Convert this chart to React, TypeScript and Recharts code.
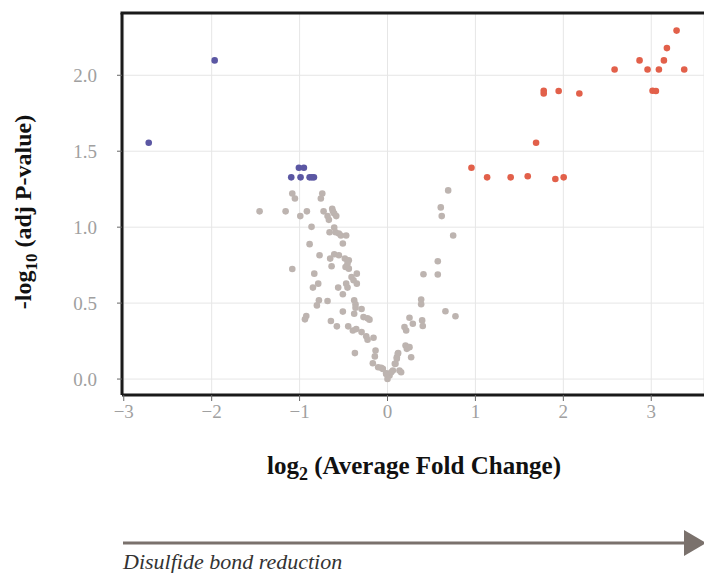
import {
  CartesianGrid,
  Scatter,
  ScatterChart,
  XAxis,
  YAxis,
} from "recharts";

// Volcano plot: log2 fold change vs -log10 adjusted p-value.
// Grey = not significant, blue = down, red = up.

const xTicks = [-3, -2, -1, 0, 1, 2, 3];
const yTicks = [0, 0.5, 1, 1.5, 2];

const downPoints: [number, number][] = [
  [-1.966, 2.098], [-2.716, 1.556], [-1.008, 1.391], [-0.951, 1.391],
  [-1.095, 1.328], [-0.989, 1.328], [-0.886, 1.328], [-0.86, 1.328],
  [-0.837, 1.328],
];

const upPoints: [number, number][] = [
  [3.288, 2.294], [3.178, 2.179], [2.867, 2.098], [3.144, 2.098],
  [2.583, 2.038], [2.958, 2.038], [3.087, 2.038], [3.375, 2.038],
  [1.777, 1.898], [1.777, 1.88], [1.947, 1.896], [2.182, 1.88],
  [3.015, 1.898], [3.053, 1.896], [1.69, 1.556], [0.955, 1.391],
  [1.133, 1.328], [1.401, 1.328], [1.595, 1.335], [1.909, 1.317],
  [2.004, 1.328],
];

const nsPoints: [number, number][] = [
  [-1.083, 1.222], [-1.053, 1.189], [-0.742, 1.222], [-0.758, 1.189],
  [-1.455, 1.104], [-1.159, 1.104], [-0.917, 1.104], [-0.992, 1.073],
  [-0.727, 1.104], [-0.682, 1.073], [-0.667, 1.048], [-0.629, 1.121],
  [-0.621, 1.104], [-0.606, 1.09], [-0.583, 1.073], [-0.864, 1.002],
  [-0.659, 0.967], [-0.606, 0.998], [-0.591, 0.967], [-0.553, 0.958],
  [-0.53, 0.945], [-0.47, 0.945], [-0.886, 0.888], [-0.508, 0.892],
  [-0.773, 0.815], [-0.652, 0.793], [-0.606, 0.822], [-0.553, 0.815],
  [-0.485, 0.793], [-0.44, 0.782], [-0.455, 0.76], [-0.477, 0.738],
  [-0.44, 0.727], [-0.636, 0.743], [-1.083, 0.725], [-0.833, 0.694],
  [-0.349, 0.694], [-0.409, 0.672], [-0.386, 0.65], [-0.349, 0.628],
  [-0.47, 0.628], [-0.561, 0.602], [-0.455, 0.602], [-0.848, 0.602],
  [-0.788, 0.628], [-0.508, 0.558], [-0.379, 0.518], [-0.364, 0.492],
  [-0.364, 0.47], [-0.295, 0.461], [-0.379, 0.43], [-0.682, 0.514],
  [-0.78, 0.518], [-0.803, 0.485], [-0.508, 0.444], [-0.924, 0.415],
  [-0.939, 0.393], [-0.273, 0.408], [-0.227, 0.4], [-0.205, 0.391],
  [-0.644, 0.382], [-0.576, 0.347], [-0.447, 0.347], [-0.394, 0.32],
  [-0.356, 0.329], [-0.295, 0.309], [-0.242, 0.281], [-0.227, 0.259],
  [-0.159, 0.272], [-0.371, 0.171], [-0.136, 0.188], [-0.144, 0.149],
  [-0.167, 0.104], [-0.106, 0.078], [-0.053, 0.067], [-0.015, 0.034],
  [0.0, 0.001], [0.023, 0.023], [0.061, 0.056], [0.083, 0.1],
  [0.106, 0.144], [0.121, 0.171], [-0.072, 0.074], [-0.015, 0.038],
  [0.042, 0.045], [0.091, 0.1], [0.106, 0.133], [0.117, 0.166],
  [0.136, 0.056], [0.155, 0.045], [0.205, 0.221], [0.22, 0.199],
  [0.25, 0.21], [0.269, 0.144], [0.193, 0.342], [0.212, 0.32],
  [0.25, 0.404], [0.288, 0.364], [0.383, 0.523], [0.383, 0.492],
  [0.394, 0.386], [0.401, 0.349], [0.409, 0.69], [0.572, 0.776],
  [0.572, 0.688], [0.606, 1.13], [0.617, 1.073], [0.69, 1.242],
  [0.747, 0.945], [0.659, 0.446], [0.773, 0.413],
];

const toRows = (pts: [number, number][]) => pts.map(([x, y]) => ({ x, y }));

const serif = "'Liberation Serif', 'DejaVu Serif', serif";

function dot(fill: string) {
  return (props: any) => (
    <circle cx={props.cx} cy={props.cy} r={3.3} fill={fill} />
  );
}

const fmtX = (v: number) => (v < 0 ? "\u2212" + Math.abs(v) : String(v));

export default function App() {
  return (
    <div
      style={{
        position: "absolute",
        left: 0,
        top: 0,
        width: 704,
        height: 573,
        background: "#fff",
      }}
    >
      <ScatterChart
        width={704}
        height={440}
        margin={{ top: 13, right: 0, left: 0, bottom: 0 }}
      >
        <CartesianGrid stroke="#e6e6e6" strokeWidth={1} />
        <XAxis
          type="number"
          dataKey="x"
          domain={[-3.02, 3.6]}
          ticks={xTicks}
          tickFormatter={fmtX}
          allowDataOverflow
          height={45}
          axisLine={{ stroke: "#1a1a1a", strokeWidth: 3 }}
          tickLine={{ stroke: "#666" }}
          tickSize={6}
          tickMargin={4}
          tick={{ fill: "#a0a0a0", fontSize: 19, fontFamily: serif }}
        />
        <YAxis
          type="number"
          dataKey="y"
          domain={[-0.105, 2.41]}
          ticks={yTicks}
          tickFormatter={(v: number) => v.toFixed(1)}
          allowDataOverflow
          width={122}
          axisLine={{ stroke: "#1a1a1a", strokeWidth: 3 }}
          tickLine={{ stroke: "#666" }}
          tickSize={5}
          tickMargin={20}
          tick={{ fill: "#a0a0a0", fontSize: 19, fontFamily: serif }}
        />
        <Scatter
          data={toRows(nsPoints)}
          shape={dot("#bdb4b0")}
          isAnimationActive={false}
        />
        <Scatter
          data={toRows(downPoints)}
          shape={dot("#5b57a3")}
          isAnimationActive={false}
        />
        <Scatter
          data={toRows(upPoints)}
          shape={dot("#e2604a")}
          isAnimationActive={false}
        />
      </ScatterChart>

      <div
        style={{
          position: "absolute",
          left: 26,
          top: 212,
          transform: "translate(-50%, -50%) rotate(-90deg)",
          whiteSpace: "nowrap",
          fontFamily: serif,
          fontWeight: "bold",
          fontSize: 24,
          color: "#111",
        }}
      >
        -log<sub style={{ fontSize: 17 }}>10</sub> (adj P-value)
      </div>

      <div
        style={{
          position: "absolute",
          left: 414,
          top: 468,
          transform: "translate(-50%, -50%)",
          whiteSpace: "nowrap",
          fontFamily: serif,
          fontWeight: "bold",
          fontSize: 25,
          color: "#111",
        }}
      >
        log<sub style={{ fontSize: 18 }}>2</sub> (Average Fold Change)
      </div>

      <svg
        width={704}
        height={573}
        style={{ position: "absolute", left: 0, top: 0, pointerEvents: "none" }}
      >
        {/* top frame of the plot box */}
        <line x1={120.5} y1={13} x2={704} y2={13} stroke="#1a1a1a" strokeWidth={3} />
        <line x1={123} y1={543} x2={690} y2={543} stroke="#7a716c" strokeWidth={3} />
        <polygon points="684,530 706,543 684,556" fill="#7a716c" />
        <text
          x={123}
          y={569}
          fontFamily={serif}
          fontStyle="italic"
          fontSize={22}
          fill="#333"
        >
          Disulfide bond reduction
        </text>
      </svg>
    </div>
  );
}
